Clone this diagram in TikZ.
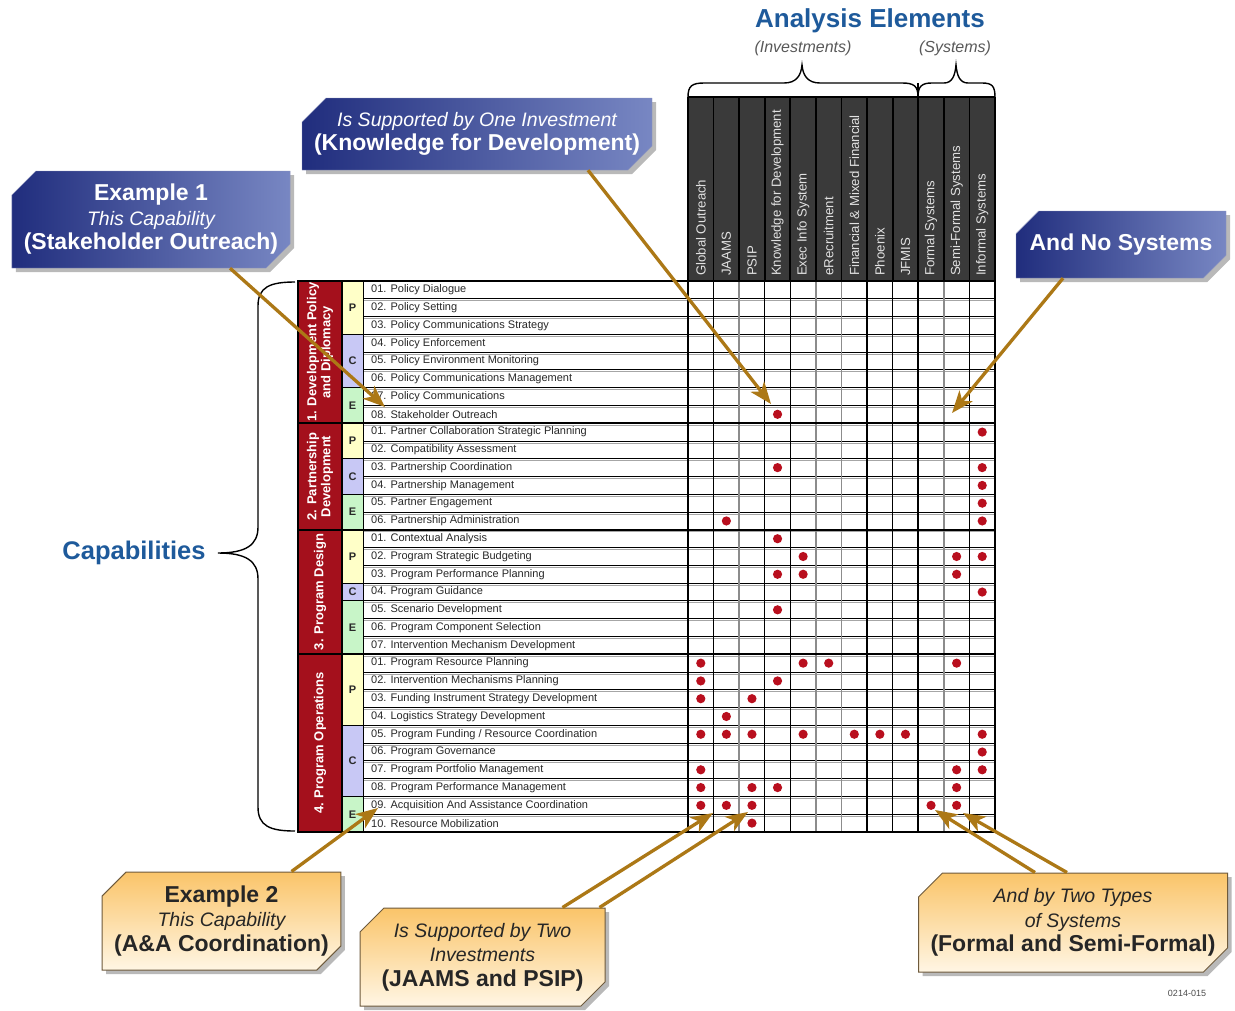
\documentclass[tikz,border=0pt]{standalone}
\usepackage{fontspec}
\setmainfont{Liberation Sans}
\usetikzlibrary{shapes.misc,shadows,arrows.meta,calc}

\definecolor{capred}{RGB}{164,16,28}
\definecolor{pyel}{RGB}{255,255,200}
\definecolor{clav}{RGB}{200,200,245}
\definecolor{egrn}{RGB}{200,245,200}
\definecolor{hdrgray}{RGB}{58,58,58}
\definecolor{hdrtext}{RGB}{225,225,225}
\definecolor{dotred}{RGB}{185,15,30}
\definecolor{titleblue}{RGB}{30,90,155}
\definecolor{arrgold}{RGB}{172,120,22}
\definecolor{navyL}{RGB}{32,45,125}
\definecolor{navyR}{RGB}{120,135,195}
\definecolor{orT}{RGB}{250,196,105}
\definecolor{orB}{RGB}{255,246,228}
\definecolor{orEdge}{RGB}{110,90,60}
\definecolor{labtext}{RGB}{40,40,40}

\tikzset{
  callout/.style={chamfered rectangle,
    chamfered rectangle corners={north west,south east},
    chamfered rectangle xsep=12pt, chamfered rectangle ysep=12pt,
    align=center, inner sep=0pt,
    font=\fontsize{23}{24.5}\selectfont\bfseries,
    drop shadow={shadow xshift=4pt, shadow yshift=-4pt, fill=black!50, opacity=.55}},
  bluebox/.style={callout, left color=navyL, right color=navyR, text=white, draw=navyL!50},
  orangebox/.style={callout, top color=orT, bottom color=orB, draw=orEdge, line width=1pt, text=black!85},
  garrow/.style={draw=arrgold, line width=3.3pt,
    -{Stealth[length=22pt, width=17pt, inset=6pt]}},
  brc/.style={draw=black, line width=1.4pt},
  rowline/.style={draw=black, line width=0.9pt},
  rowshade/.style={draw=black!35, line width=0.9pt},
  grpline/.style={draw=black, line width=2.2pt},
  rowlab/.style={anchor=west, inner sep=0pt, text=labtext, font=\fontsize{11}{13}\selectfont},
  hdrlab/.style={anchor=west, rotate=90, inner sep=0pt, text=hdrtext, font=\fontsize{13.2}{15}\selectfont},
  grplab/.style={rotate=90, align=center, text=white, inner sep=0pt, font=\fontsize{13}{14}\selectfont\bfseries},
  pcelab/.style={inner sep=0pt, text=labtext, font=\fontsize{11}{12}\selectfont\bfseries},
  dot/.style={fill=dotred}
}
\newcommand{\itline}[1]{{\fontsize{19.5}{24.5}\selectfont\mdseries\itshape #1}}

\begin{document}
\begin{tikzpicture}[x=1pt,y=-1pt]
\useasboundingbox (0,0) rectangle (1235,1010);
\fill[white] (0,0) rectangle (1235,1010);

\def\GX{688}\def\CW{25.583}\def\GY{281}\def\RH{17.774}

% ---------- titles ----------
\node[text=titleblue, font=\fontsize{26}{28}\selectfont\bfseries] (anel) at (870,21) {Analysis Elements};
\node[text=black!65, font=\fontsize{16}{18}\selectfont\itshape] (inv) at (803,48) {(Investments)};
\node[text=black!65, font=\fontsize{16}{18}\selectfont\itshape] (sys) at (955,48) {(Systems)};
\node[text=titleblue, font=\fontsize{25.5}{27}\selectfont\bfseries] (caps) at (134,553) {Capabilities};

% braces over the element groups
\draw[brc] (688,97) .. controls (688,86) and (692,83) .. (704,83) -- (784,83)
  .. controls (796,83) and (801,76) .. (802,65)
  .. controls (803,76) and (808,83) .. (820,83) -- (902,83)
  .. controls (914,83) and (918,86) .. (918,97);
\draw[brc] (918,97) .. controls (918,86) and (922,83) .. (932,83) -- (944,83)
  .. controls (952,83) and (955,76) .. (956,65)
  .. controls (957,76) and (960,83) .. (968,83) -- (982,83)
  .. controls (992,83) and (995,86) .. (995,97);
% brace beside the capability list
\draw[brc] (295,282) .. controls (270,282) and (258,287) .. (258,306) -- (258,527)
  .. controls (258,545) and (246,553) .. (218,553)
  .. controls (246,553) and (258,561) .. (258,579) -- (258,807)
  .. controls (258,826) and (270,831) .. (295,831);

% ---------- column headers ----------
\fill[hdrgray] (\GX,97) rectangle (995,\GY);
\foreach \j in {0,...,12}
  \draw[black, line width=1.8pt] ({\GX+\j*\CW},97) -- ({\GX+\j*\CW},\GY);
\draw[black, line width=1.5pt] (\GX,97) -- (995,97);
\foreach \t [count=\i from 0] in {Global Outreach, JAAMS, PSIP, Knowledge for Development,
    Exec Info System, eRecruitment, Financial \& Mixed Financial, Phoenix, JFMIS,
    Formal Systems, Semi-Formal Systems, Informal Systems}
  \node[hdrlab] at ({\GX+(\i+0.5)*\CW},276) {\t};

% ---------- capability group column ----------
\foreach \a/\b in {0/8, 8/14, 14/21, 21/31}
  \draw[fill=capred, line width=1.5pt] (298,{\GY+\a*\RH}) rectangle (342,{\GY+\b*\RH});
\node[grplab] (g1) at (320,{\GY+4*\RH}) {1. Development Policy\\and Diplomacy};
\node[grplab] (g2) at (320,{\GY+11*\RH}) {2. Partnership\\Development};
\node[grplab] (g3) at (320,{\GY+17.5*\RH}) {3. Program Design};
\node[grplab] (g4) at (320,{\GY+26*\RH}) {4. Program Operations};

% P / C / E blocks
\foreach \a/\b/\l/\col in {0/3/P/pyel, 3/6/C/clav, 6/8/E/egrn,
    8/10/P/pyel, 10/12/C/clav, 12/14/E/egrn,
    14/17/P/pyel, 17/18/C/clav, 18/21/E/egrn,
    21/25/P/pyel, 25/29/C/clav, 29/31/E/egrn} {
  \draw[fill=\col, line width=1pt] (342,{\GY+\a*\RH}) rectangle (363,{\GY+\b*\RH});
  \node[pcelab] at (352.5,{\GY+(\a+\b)/2*\RH}) {\l};
}

% ---------- rows ----------
\foreach \i in {1,...,30} {
  \draw[rowshade] (363,{\GY+\i*\RH+2}) -- (995,{\GY+\i*\RH+2});
  \draw[rowline] (363,{\GY+\i*\RH}) -- (995,{\GY+\i*\RH});
}
% grid columns (some drawn lighter)
\foreach \j in {1,3,4,7,8,11}
  \draw[black, line width=1.2pt] ({\GX+\j*\CW},\GY) -- ({\GX+\j*\CW},832);
\foreach \j in {2,5,6,10}
  \draw[black!45, line width=1.6pt] ({\GX+\j*\CW},\GY) -- ({\GX+\j*\CW},832);
\draw[black, line width=2pt] ({\GX+9*\CW},83) -- ({\GX+9*\CW},832);
\draw[black, line width=2pt] (\GX,\GY) -- (\GX,832);
\draw[black, line width=1pt] (363,\GY) -- (363,832);
\foreach \i in {8,14,21}
  \draw[grpline] (298,{\GY+\i*\RH}) -- (995,{\GY+\i*\RH});
\draw[black, line width=2.2pt] (298,\GY) rectangle (995,832);

% row labels
\foreach \t [count=\i from 0] in {
  01. Policy Dialogue, 02. Policy Setting, 03. Policy Communications Strategy,
  04. Policy Enforcement, 05. Policy Environment Monitoring,
  06. Policy Communications Management, 07. Policy Communications,
  08. Stakeholder Outreach,
  01. Partner Collaboration Strategic Planning, 02. Compatibility Assessment,
  03. Partnership Coordination, 04. Partnership Management,
  05. Partner Engagement, 06. Partnership Administration,
  01. Contextual Analysis, 02. Program Strategic Budgeting,
  03. Program Performance Planning, 04. Program Guidance,
  05. Scenario Development, 06. Program Component Selection,
  07. Intervention Mechanism Development,
  01. Program Resource Planning, 02. Intervention Mechanisms Planning,
  03. Funding Instrument Strategy Development, 04. Logistics Strategy Development,
  05. Program Funding / Resource Coordination, 06. Program Governance,
  07. Program Portfolio Management, 08. Program Performance Management,
  09. Acquisition And Assistance Coordination, 10. Resource Mobilization}
  \node[rowlab] at (371,{\GY+(\i+0.5)*\RH}) {\t};

% support marks
\foreach \r/\c in {7/3, 8/11, 10/3, 10/11, 11/11, 12/11, 13/1, 13/11, 14/3,
    15/4, 15/10, 15/11, 16/3, 16/4, 16/10, 17/11, 18/3,
    21/0, 21/4, 21/5, 21/10, 22/0, 22/3, 23/0, 23/2, 24/1,
    25/0, 25/1, 25/2, 25/4, 25/6, 25/7, 25/8, 25/11, 26/11,
    27/0, 27/10, 27/11, 28/0, 28/2, 28/3, 28/10,
    29/0, 29/1, 29/2, 29/9, 29/10, 30/2}
  \fill[dot] ({\GX+(\c+0.5)*\CW},{\GY+(\r+0.5)*\RH}) circle (4.6pt);

% ---------- callouts ----------
\node[bluebox, minimum width=276pt, minimum height=97pt] (ex1) at (151,219.5)
  {Example 1\\\itline{This Capability}\\(Stakeholder Outreach)};
\node[bluebox, minimum width=350pt, minimum height=72pt] (sup1) at (477,134)
  {\itline{Is Supported by One Investment}\\(Knowledge for Development)};
\node[bluebox, minimum width=210pt, minimum height=67pt] (nosys) at (1121,244.5)
  {And No Systems};
\node[orangebox, minimum width=237pt, minimum height=98pt] (ex2) at (221.5,921)
  {Example 2\\\itline{This Capability}\\(A\&A Coordination)};
\node[orangebox, minimum width=245pt, minimum height=98pt] (sup2) at (482.5,957)
  {\itline{Is Supported by Two}\\\itline{Investments}\\(JAAMS and PSIP)};
\node[orangebox, minimum width=306pt, minimum height=99pt] (sys2) at (1073,922.5)
  {\itline{And by Two Types}\\\itline{of Systems}\\(Formal and Semi-Formal)};
\node[text=black!70, font=\fontsize{9}{10}\selectfont] (ref) at (1187,993) {0214-015};

% arrow targets
\coordinate (tStake) at (385,407);
\coordinate (tKnow) at (771,404);
\coordinate (tNone) at (952,413);
\coordinate (tAA) at (378,808);
\coordinate (tJaams) at (713,813);
\coordinate (tPsip) at (748,812);
\coordinate (tFormal) at (935,810);
\coordinate (tSemi) at (963,813);

% ---------- connectors ----------
\draw[garrow] ([xshift=79pt]ex1.south) -- (tStake);
\draw[garrow] ([xshift=111pt]sup1.south) -- (tKnow);
\draw[garrow] ([xshift=-58pt]nosys.south) -- (tNone);
\draw[garrow] ([xshift=70pt]ex2.north) -- (tAA);
\draw[garrow] ([xshift=80pt]sup2.north) -- (tJaams);
\draw[garrow] ([xshift=117pt]sup2.north) -- (tPsip);
\draw[garrow] ([xshift=-38pt]sys2.north) -- (tFormal);
\draw[garrow] ([xshift=-6pt]sys2.north) -- (tSemi);
\end{tikzpicture}
\end{document}
